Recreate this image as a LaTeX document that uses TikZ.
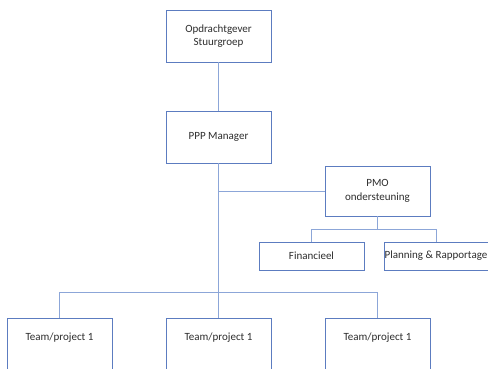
\documentclass[tikz,border=0pt]{standalone}
\usepackage{fontspec}
\setmainfont{Carlito}
\usetikzlibrary{calc, positioning}
\definecolor{boxBlue}{RGB}{92,124,192}
\definecolor{linkBlue}{RGB}{140,166,216}
\definecolor{txtGray}{RGB}{45,45,45}
\tikzset{
    orgBox/.style={rectangle, draw=boxBlue, line width=0.9pt, fill=white, inner sep=0pt, minimum width=105pt, align=center, text=txtGray, font=\fontsize{11}{13.5}\selectfont},
    teamBox/.style={orgBox, minimum height=0pt, text height=22pt, text depth=42pt, anchor=base},
    orgLink/.style={draw=linkBlue, line width=0.9pt},
}
\newcommand{\drawDrop}[2]{
    \draw[orgLink] (#1) -- (#1 -| #2.north) -- (#2.north);
}

\begin{document}
\begin{tikzpicture}[x=1pt, y=-1pt]

        \useasboundingbox (0,0) rectangle (488,369);

        \node[orgBox, minimum height=52pt] (og) at (218.5,36) {Opdrachtgever\\Stuurgroep};
        \node[orgBox, minimum height=52pt] (ppp) at (218.5,137) {PPP Manager};
        \node[orgBox, minimum height=50pt] (pmo) at (377.5,191) {PMO\\ondersteuning};
        \node[orgBox, minimum height=28pt] (fin) at (311.5,256) {Financieel};
        \node[orgBox, minimum width=104pt, minimum height=28pt] (plan) at (436,256) {Planning \& Rapportage};
        \node[teamBox] (t1) at (59.5,340) {Team/project 1};
        \node[teamBox] (t2) at (218.5,340) {Team/project 1};
        \node[teamBox] (t3) at (377.5,340) {Team/project 1};

        \coordinate (teamBus) at (218.5,292);
        \coordinate (pmoBus) at (377.5,229);

        \draw[orgLink] (og.south) -- (ppp.north);
        \draw[orgLink] (ppp.south) -- (teamBus);
        \draw[orgLink] (ppp.south |- pmo.west) -- (pmo.west);
        \draw[orgLink] (pmo.south) -- (pmoBus);
        \drawDrop{pmoBus}{fin}
        \drawDrop{pmoBus}{plan}
        \drawDrop{teamBus}{t1}
        \drawDrop{teamBus}{t2}
        \drawDrop{teamBus}{t3}

    \end{tikzpicture}
\end{document}
